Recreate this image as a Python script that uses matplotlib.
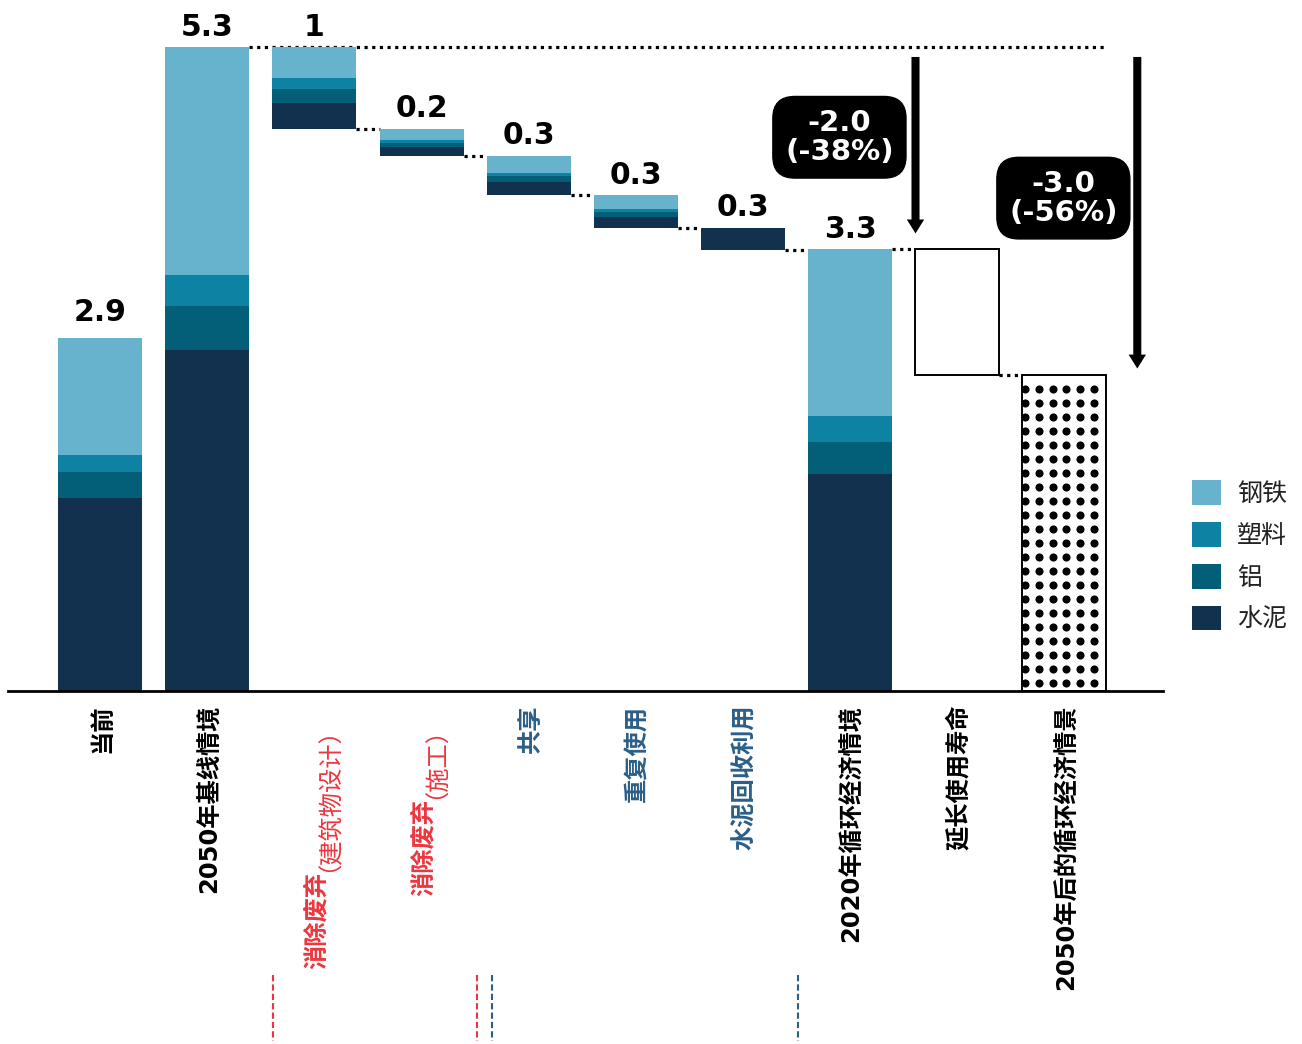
import numpy as np
import matplotlib.pyplot as plt
from matplotlib.patches import Patch
import matplotlib.transforms as mtransforms

plt.rcParams['font.family'] = ['Noto Sans CJK SC', 'DejaVu Sans']

# ---- data ----
categories = ['当前', '2050年基线情境', '消除废弃（建筑物设计）', '消除废弃（施工）',
              '共享', '重复使用', '水泥回收利用', '2020年循环经济情境',
              '延长使用寿命', '2050年后的循环经济情景']
label_colors = ['black', 'black', 'red', 'red', 'blue', 'blue', 'blue',
                'black', 'black', 'black']

materials = ['钢铁', '塑料', '铝', '水泥']
# first 8 bars, stacked bottom -> top: cement, aluminium, plastic, steel
cement = [1.59, 2.80, 0.21, 0.07, 0.11, 0.09, 0.18, 1.78]
aluminium = [0.21, 0.36, 0.12, 0.03, 0.05, 0.04, 0.00, 0.27]
plastic = [0.14, 0.26, 0.09, 0.03, 0.025, 0.025, 0.00, 0.21]
steel = [0.96, 1.87, 0.25, 0.09, 0.14, 0.115, 0.00, 1.37]
value_labels = ['2.9', '5.3', '1', '0.2', '0.3', '0.3', '0.3', '3.3']

lifetime_cut = 1.03          # 延长使用寿命
final_value = 2.60           # 2050年后的循环经济情景
delta_labels = ['-2.0\n(-38%)', '-3.0\n(-56%)']

colors = {'钢铁': '#67B2CD', '塑料': '#0E82A2', '铝': '#035E77', '水泥': '#12314F'}
text_colors = {'black': '#000000', 'red': '#EC363E', 'blue': '#2B5F87'}

# ---- figure ----
fig = plt.figure(figsize=(13.02, 10.44), dpi=100)
ax = fig.add_axes([8 / 1302, 353 / 1044, 1155 / 1302, 691 / 1044])
ax.set_xlim(-0.86, 9.92)
ax.set_ylim(0, 5.678)
for s in ['top', 'right', 'left']:
    ax.spines[s].set_visible(False)
ax.spines['bottom'].set_linewidth(2)
ax.set_xticks([])
ax.set_yticks([])

w = 0.785
x = np.arange(len(categories))

# waterfall bottoms
totals = np.array(cement) + np.array(aluminium) + np.array(plastic) + np.array(steel)
bottoms = np.zeros(8)
level = totals[1]
for i in range(2, 7):
    bottoms[i] = level - totals[i]
    level = bottoms[i]

stack = [('水泥', cement), ('铝', aluminium), ('塑料', plastic), ('钢铁', steel)]
base = bottoms.copy()
for name, vals in stack:
    vals = np.array(vals)
    ax.bar(x[:8], vals, w, bottom=base, color=colors[name], lw=0, zorder=2)
    base = base + vals

tops = bottoms + totals
for i in range(8):
    ax.annotate(value_labels[i], (x[i], tops[i]), xytext=(0, 4 if i else 8),
                textcoords='offset points', ha='center', va='bottom',
                fontsize=21.5, fontweight='bold', family='DejaVu Sans')

# lifetime extension bar and final dotted bar
life_bottom = tops[7] - lifetime_cut
ax.bar(x[8], lifetime_cut, w, bottom=life_bottom, facecolor='white',
       edgecolor='black', lw=1.4, zorder=2)
final_bar = ax.bar(x[9], final_value, w, facecolor='white', edgecolor='black',
                   lw=1.4, zorder=2)[0]
left = x[9] - w / 2
xs = np.arange(left + 0.02, left + w, 0.1306)
ys = np.arange(final_value - 0.12, 0, -0.115)
gx, gy = np.meshgrid(xs, ys)
dots = ax.scatter(gx.ravel(), gy.ravel(), s=34, c='black', lw=0, zorder=3)
dots.set_clip_path(final_bar)

# dotted connectors
dot_kw = dict(color='black', lw=2.3, linestyle=(0, (1, 1.4)), zorder=1)
ax.plot([x[1] + w / 2, x[9] + w / 2], [tops[1], tops[1]], **dot_kw)
for i in range(2, 7):
    ax.plot([x[i] + w / 2, x[i + 1] - w / 2], [bottoms[i], bottoms[i]], **dot_kw)
ax.plot([x[7] + w / 2, x[8] - w / 2], [tops[7], tops[7]], **dot_kw)
ax.plot([x[8] + w / 2, x[9] - w / 2], [life_bottom, life_bottom], **dot_kw)

# reduction arrows and boxes
arrow_kw = dict(width=5.8, headwidth=12.5, headlength=10, facecolor='black',
                edgecolor='black', lw=0, shrink=0)
ax.annotate('', xy=(7.61, 3.76), xytext=(7.61, 5.21), arrowprops=arrow_kw)
ax.annotate('', xy=(9.68, 2.65), xytext=(9.68, 5.21), arrowprops=arrow_kw)
box_kw = dict(boxstyle='round,pad=0.42,rounding_size=0.75', fc='black', ec='black')
ax.text(6.90, 4.55, delta_labels[0], ha='center', va='center', color='white',
        fontsize=21, fontweight='bold', family='DejaVu Sans', linespacing=1.05,
        bbox=box_kw)
ax.text(8.99, 4.05, delta_labels[1], ha='center', va='center', color='white',
        fontsize=21, fontweight='bold', family='DejaVu Sans', linespacing=1.05,
        bbox=box_kw)

# category labels (rotated, read bottom to top, end aligned under the axis)
lab_font = ['DejaVu Sans', 'Noto Sans CJK SC']
lab_kw = dict(rotation=90, rotation_mode='anchor', ha='right', va='baseline',
              fontsize=17.5, annotation_clip=False, textcoords='offset points')
for i, lab in enumerate(categories):
    col = text_colors[label_colors[i]]
    if '（' in lab:
        head, tail = lab.split('（', 1)
        t1 = ax.annotate('（' + tail, (x[i], 0), xycoords=('data', 'axes fraction'),
                         xytext=(6.5, -8), color=col, family='Noto Sans CJK JP',
                         fontweight='normal', **lab_kw)
        ax.annotate(head, (x[i], 0), xycoords=('data', t1), xytext=(6.5, 0),
                    color=col, fontweight='bold', family='Noto Sans CJK SC',
                    **lab_kw)
    else:
        ax.annotate(lab, (x[i], 0), xycoords=('data', 'axes fraction'),
                    xytext=(6.5, -10), color=col, fontweight='bold',
                    family=lab_font, **lab_kw)

# group brackets under the labels
trans = mtransforms.blended_transform_factory(ax.transData, fig.transFigure)
for xv, c in [(1.61, 'red'), (3.52, 'red'), (3.66, 'blue'), (6.51, 'blue')]:
    ax.plot([xv, xv], [0.066, 0.003], transform=trans, color=text_colors[c],
            lw=1.5, linestyle=(0, (3, 1.5)), clip_on=False)

# legend
handles = [Patch(facecolor=colors[m], edgecolor='none') for m in materials]
fig.legend(handles, materials, loc='upper left',
           bbox_to_anchor=(1192 / 1302, 1 - 480 / 1044), frameon=False,
           fontsize=18, handlelength=1.15, handleheight=1.15, labelspacing=0.6,
           handletextpad=0.65, borderpad=0, borderaxespad=0,
           labelcolor='#222222')

fig.savefig('out.png', dpi=100)
